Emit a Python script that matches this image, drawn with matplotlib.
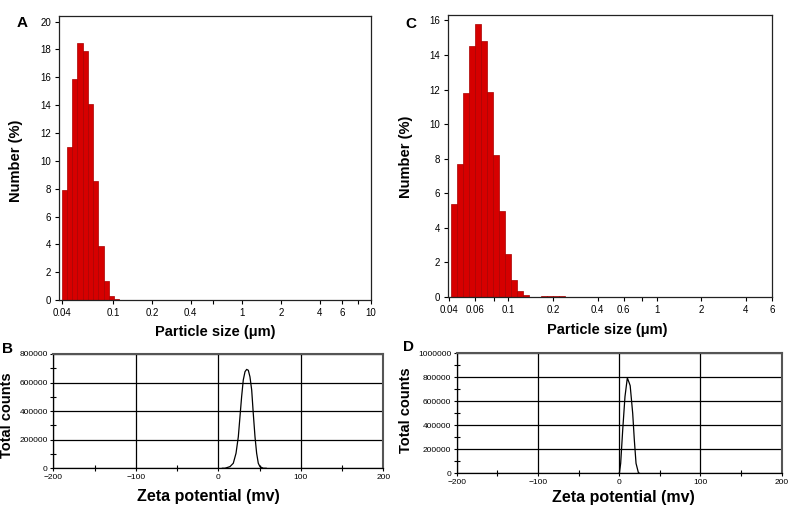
import numpy as np
import matplotlib
matplotlib.use('Agg')
import matplotlib.pyplot as plt
from matplotlib.ticker import FixedLocator, NullFormatter, FixedFormatter

plt.rcParams['font.family'] = ['Liberation Sans', 'DejaVu Sans']

# panel A - size distribution (log bins)
a_edges = [0.0398, 0.0437, 0.0480, 0.0527, 0.0579, 0.0636, 0.0698, 0.0767,
           0.0843, 0.0926, 0.1017, 0.1117]
a_heights = [7.9, 10.96, 15.9, 18.5, 17.9, 14.1, 8.52, 3.9, 1.35, 0.27, 0.09]
a_ticks = [0.04, 0.1, 0.2, 0.4, 0.6, 1, 2, 4, 6, 8, 10]
a_ticklabels = ['0.04', '0.1', '0.2', '0.4', '', '1', '2', '4', '6', '', '10']

# panel C - size distribution
c_edges = [0.0411, 0.0451, 0.0495, 0.0543, 0.0597, 0.0655, 0.0719, 0.0789,
           0.0866, 0.0951, 0.1043, 0.1145, 0.1257, 0.1380, 0.1515, 0.1663,
           0.1825, 0.2003, 0.2199, 0.2414]
c_heights = [5.40, 7.70, 11.81, 14.55, 15.81, 14.8, 11.85, 8.2, 4.96, 2.51,
             1.0, 0.37, 0.14, 0.0, 0.0, 0.05, 0.05, 0.05, 0.05]
c_ticks = [0.04, 0.06, 0.08, 0.1, 0.2, 0.4, 0.6, 0.8, 1, 2, 4, 6]
c_ticklabels = ['0.04', '0.06', '', '0.1', '0.2', '0.4', '0.6', '', '1', '2', '4', '6']

# panel B - zeta potential
b_mv = [5, 8.1, 14.2, 18.2, 21.5, 24.3, 26.3, 28.3, 30.3, 32.4, 34.4, 36.4,
        38.4, 40.5, 42.4, 44.5, 46.5, 48.5, 50.5, 54.5, 58]
b_counts = [0, 0, 11700, 35000, 105000, 221000, 361000, 501000, 618000,
            676000, 692000, 686000, 640000, 548000, 385000, 221000, 105000,
            35000, 11700, 0, 0]

# panel D - zeta potential
d_mv = [0, 0.2, 1.8, 4.3, 7.1, 10.0, 12.5, 13.5, 16.6, 18.6, 20.7, 23.6, 25]
d_counts = [0, 0, 83000, 361000, 639000, 795000, 750000, 730000, 500000,
            278000, 83000, 5500, 0]

red = '#d60000'


def draw_hist(ax, edges, heights, xlim, ylim, yticks, ticks, labels):
    left = np.array(edges[:-1])
    width = np.diff(edges)
    ax.bar(left, heights, width=width, align='edge', color=red,
           edgecolor='#a80000', linewidth=0.5)
    ax.set_xscale('log')
    ax.set_xlim(*xlim)
    ax.set_ylim(*ylim)
    ax.xaxis.set_major_locator(FixedLocator(ticks))
    ax.xaxis.set_major_formatter(FixedFormatter(labels))
    ax.xaxis.set_minor_locator(FixedLocator([]))
    ax.xaxis.set_minor_formatter(NullFormatter())
    ax.set_yticks(yticks)
    ax.tick_params(axis='both', direction='out', length=3, width=0.8,
                   labelsize=7, pad=3)
    for s in ax.spines.values():
        s.set_linewidth(0.9)
        s.set_color('#222222')
    ax.set_ylabel('Number (%)', fontsize=10.5, fontweight='bold')
    ax.set_xlabel('Particle size (\u03bcm)', fontsize=10.5, fontweight='bold')


def draw_zeta(ax, x, y, ymax, ystep):
    ax.plot(x, y, color='black', linewidth=0.9, zorder=3)
    ax.set_xlim(-200, 200)
    ax.set_ylim(0, ymax)
    ax.set_xticks([-200, -100, 0, 100, 200])
    ax.set_xticks([-150, -50, 50, 150], minor=True)
    ax.set_yticks(np.arange(0, ymax + 1, ystep))
    ax.set_yticks(np.arange(ystep / 2, ymax, ystep), minor=True)
    ax.ticklabel_format(axis='y', style='plain', useOffset=False)
    ax.grid(True, which='major', color='black', linewidth=0.9)
    ax.tick_params(axis='both', which='major', direction='out', length=2,
                   width=0.8, labelsize=6, pad=2)
    ax.tick_params(axis='both', which='minor', direction='inout', length=4,
                   width=0.8)
    for side in ['left', 'bottom']:
        ax.spines[side].set_color('black')
        ax.spines[side].set_linewidth(0.9)
    for side in ['top', 'right']:
        ax.spines[side].set_color('#555555')
        ax.spines[side].set_linewidth(1.5)
    ax.set_ylabel('Total counts', fontsize=10.5, fontweight='bold')
    ax.set_xlabel('Zeta potential (mv)', fontsize=11.5, fontweight='bold')


fig = plt.figure(figsize=(7.88, 5.08), dpi=100)

axA = fig.add_axes([0.0753, 0.4094, 0.3952, 0.559])
draw_hist(axA, a_edges, a_heights, (0.0381, 10), (0, 20.4),
          np.arange(0, 21, 2), a_ticks, a_ticklabels)
axA.yaxis.set_label_coords(-0.118, 0.49)
axA.xaxis.set_label_coords(0.5, -0.088)

axC = fig.add_axes([0.5689, 0.4154, 0.4108, 0.5545])
draw_hist(axC, c_edges, c_heights, (0.0394, 6), (0, 16.3),
          np.arange(0, 17, 2), c_ticks, c_ticklabels)
axC.yaxis.set_label_coords(-0.11, 0.497)
axC.xaxis.set_label_coords(0.49, -0.092)

axB = fig.add_axes([0.0676, 0.0782, 0.4188, 0.225])
draw_zeta(axB, b_mv, b_counts, 800000, 200000)
axB.yaxis.set_label_coords(-0.12, 0.466)
axB.xaxis.set_label_coords(0.469, -0.185)

axD = fig.add_axes([0.5796, 0.0683, 0.4124, 0.2362])
draw_zeta(axD, d_mv, d_counts, 1000000, 200000)
axD.yaxis.set_label_coords(-0.136, 0.527)
axD.xaxis.set_label_coords(0.513, -0.143)

for lab, x, y in [('A', 0.0286, 0.9547), ('C', 0.5216, 0.9528),
                  ('B', 0.0095, 0.313), ('D', 0.519, 0.316)]:
    fig.text(x, y, lab, fontsize=11, fontweight='bold', ha='center', va='center')

fig.savefig('out.png', dpi=100)
